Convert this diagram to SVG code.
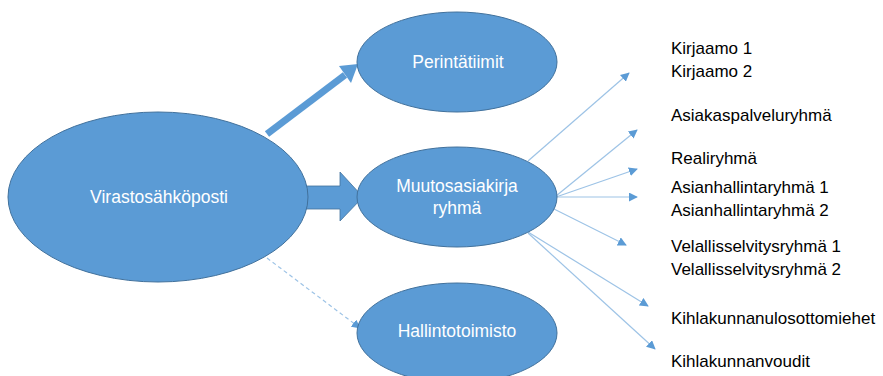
<svg xmlns="http://www.w3.org/2000/svg" width="883" height="376" viewBox="0 0 883 376">
  <style>
    .node { fill: #5B9BD5; stroke: #41719C; stroke-width: 1; }
    .lbl { font-family: "Liberation Sans", Arial, sans-serif; font-size: 17.5px; fill: #FFFFFF; text-anchor: middle; }
    .item { font-family: "Liberation Sans", Arial, sans-serif; font-size: 17px; fill: #000000; }
    .thin { stroke: #9DC3E6; stroke-width: 1.2; fill: none; marker-end: url(#tip); }
    .dash { stroke: #9DC3E6; stroke-width: 1.2; fill: none; stroke-dasharray: 4 3; marker-end: url(#tip); }
  </style>
  <defs>
    <marker id="tip" viewBox="0 0 10 10" refX="9" refY="5" markerWidth="9" markerHeight="9" markerUnits="userSpaceOnUse" orient="auto">
      <path d="M0,0 L10,5 L0,10 Z" fill="#5B9BD5"/>
    </marker>
  </defs>
  <rect width="883" height="376" fill="#FFFFFF"/>

  <g id="connectors">
    <!-- thick arrow to Perintätiimit -->
    <line x1="267" y1="134" x2="345" y2="75" stroke="#5B9BD5" stroke-width="7"/>
    <polygon points="358,64 339,66 351,83" fill="#5B9BD5"/>
    <!-- block arrow to Muutosasiakirja ryhmä -->
    <polygon points="304,186 340,186 340,172 363,197 340,221 340,209 304,209" fill="#5B9BD5" stroke="#41719C" stroke-width="0.8"/>
    <!-- dashed arrow to Hallintotoimisto -->
    <line class="dash" x1="267" y1="258" x2="360" y2="328"/>
    <!-- fan-out to groups -->
    <line class="thin" x1="528" y1="161" x2="629" y2="73"/>
    <line class="thin" x1="556" y1="196" x2="637" y2="130"/>
    <line class="thin" x1="556" y1="197" x2="637" y2="169"/>
    <line class="thin" x1="556" y1="197" x2="637" y2="197"/>
    <line class="thin" x1="552" y1="208" x2="626" y2="245"/>
    <line class="thin" x1="528" y1="232" x2="648" y2="306"/>
    <line class="thin" x1="528" y1="233" x2="655" y2="349"/>
  </g>

  <g id="virastosahkoposti">
    <ellipse class="node" cx="158" cy="197" rx="150" ry="85"/>
    <text class="lbl" x="159" y="203">Virastosähköposti</text>
  </g>
  <g id="perintatiimit">
    <ellipse class="node" cx="457" cy="62" rx="100" ry="50"/>
    <text class="lbl" x="458" y="68">Perintätiimit</text>
  </g>
  <g id="muutosasiakirja">
    <ellipse class="node" cx="457" cy="197" rx="100" ry="50"/>
    <text class="lbl" x="457" y="192">Muutosasiakirja</text>
    <text class="lbl" x="457" y="214">ryhmä</text>
  </g>
  <g id="hallintotoimisto">
    <ellipse class="node" cx="457" cy="333" rx="100" ry="50"/>
    <text class="lbl" x="457" y="337">Hallintotoimisto</text>
  </g>

  <g id="groups">
    <text class="item" x="671" y="54">Kirjaamo 1</text>
    <text class="item" x="671" y="77">Kirjaamo 2</text>
    <text class="item" x="671" y="121">Asiakaspalveluryhmä</text>
    <text class="item" x="671" y="164">Realiryhmä</text>
    <text class="item" x="671" y="193">Asianhallintaryhmä 1</text>
    <text class="item" x="671" y="216">Asianhallintaryhmä 2</text>
    <text class="item" x="671" y="252">Velallisselvitysryhmä 1</text>
    <text class="item" x="671" y="275">Velallisselvitysryhmä 2</text>
    <text class="item" x="671" y="324">Kihlakunnanulosottomiehet</text>
    <text class="item" x="671" y="367">Kihlakunnanvoudit</text>
  </g>
</svg>
